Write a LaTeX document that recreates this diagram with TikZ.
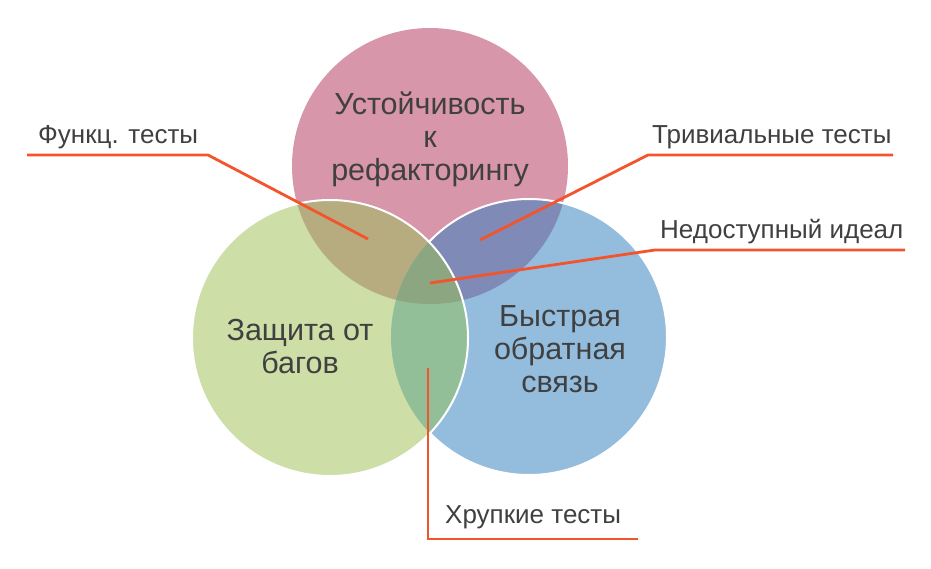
\documentclass[tikz,border=0pt]{standalone}
\usepackage{fontspec}
\setmainfont{Liberation Sans}
\usepackage{tikz}
\usetikzlibrary{positioning}
\usepackage{xcolor}

\definecolor{pinkc}{RGB}{215,150,170}
\definecolor{greenc}{RGB}{205,222,167}
\definecolor{bluec}{RGB}{148,189,221}
\definecolor{pgc}{RGB}{182,172,128}
\definecolor{pbc}{RGB}{128,138,183}
\definecolor{gbc}{RGB}{146,191,151}
\definecolor{allc}{RGB}{140,166,130}
\definecolor{linec}{RGB}{244,84,44}
\definecolor{txtc}{RGB}{64,64,64}

\begin{document}
\begin{tikzpicture}[x=1pt,y=-1pt,
  circtxt/.style={align=center,text=txtc,font=\fontsize{30.5}{33}\selectfont},
  lbl/.style={text=txtc,font=\fontsize{26}{30}\selectfont,inner sep=0pt},
  callout/.style={draw=linec,line width=2.8pt}]
\useasboundingbox (0,0) rectangle (931,568);
\coordinate (cp) at (430,166);
\coordinate (cg) at (330,338);
\coordinate (cb) at (529,337);

% circles
\fill[pinkc] (cp) circle (138pt);
\fill[bluec] (cb) circle (138pt);
\begin{scope}
  \clip (cp) circle (138pt);
  \fill[pbc] (cb) circle (138pt);
\end{scope}
\draw[white,line width=2pt] (cb) circle (138pt);
\fill[greenc] (cg) circle (138pt);
\begin{scope}
  \clip (cg) circle (138pt);
  \fill[pgc] (cp) circle (138pt);
  \fill[gbc] (cb) circle (138pt);
  \clip (cp) circle (138pt);
  \fill[allc] (cb) circle (138pt);
\end{scope}
\draw[white,line width=2pt] (cg) circle (138pt);

% circle texts
\node[circtxt] (refac) at (430,139) {Устойчивость\\к\\рефакторингу};
\node[circtxt] (bugs) at (300,347) {Защита от\\багов};
\node[circtxt] (fast) at (560,349) {Быстрая\\обратная\\связь};

% labels
\node[lbl,anchor=base west] (funk) at (38,143) {Функц. тесты};
\node[lbl,anchor=base west] (triv) at (652,143) {Тривиальные тесты};
\node[lbl,anchor=base west] (ideal) at (660,238) {Недоступный идеал};
\node[lbl,anchor=base west] (fragile) at (445,523) {Хрупкие тесты};

\coordinate (funkL) at (27,155);
\coordinate (funkR) at (208,155);
\coordinate (funkP) at (368,239);
\coordinate (trivL) at (648,155);
\coordinate (trivR) at (893,155);
\coordinate (trivP) at (480,240);
\coordinate (idealL) at (655,250);
\coordinate (idealR) at (905,250);
\coordinate (idealP) at (430,283);
\coordinate (fragL) at (428,539);
\coordinate (fragR) at (638,539);
\coordinate (fragP) at (428,368);

\draw[callout] (funkL) -- (funkR) -- (funkP);
\draw[callout] (trivR) -- (trivL) -- (trivP);
\draw[callout] (idealR) -- (idealL) -- (idealP);
\draw[callout] (fragR) -- (fragL) -- (fragP);
\end{tikzpicture}
\end{document}
